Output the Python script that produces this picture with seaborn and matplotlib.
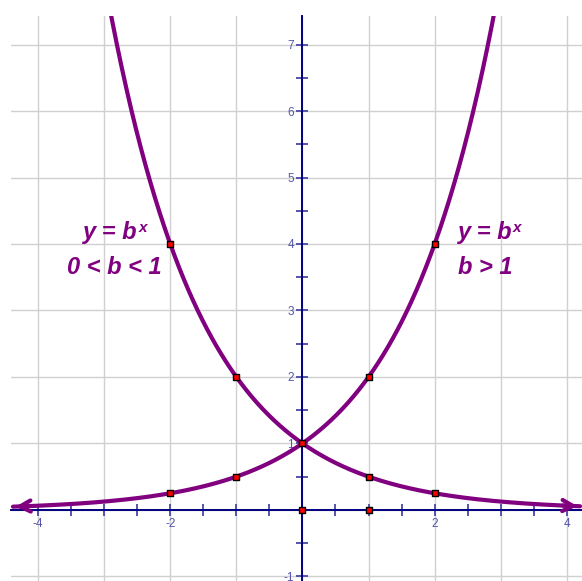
import matplotlib
matplotlib.use("Agg")
import matplotlib.pyplot as plt
import numpy as np
import pandas as pd
import seaborn as sns

# data
bases = [2.0, 0.5]
x_lo, x_hi = -4.38, 4.2
pts_x = [-2, -1, 0, 1, 2, -2, -1, 1, 2, 0, 1]
pts_y = [4, 2, 1, 0.5, 0.25, 0.25, 0.5, 2, 4, 0, 0]
x_ticks = np.arange(-4, 4.01, 0.5)
x_labeled = [-4, -2, 2, 4]
y_ticks = np.arange(-1, 7.01, 0.5)
y_labeled = [-1, 1, 2, 3, 4, 5, 6, 7]

purple = "#800080"
navy = "#000080"
tickc = "#5454aa"

sns.set_style("white")
plt.rcParams["font.family"] = ["Liberation Sans", "DejaVu Sans"]

fig = plt.figure(figsize=(5.82, 5.81), dpi=100)
ax = fig.add_axes([11 / 582, 0, 571 / 582, 565 / 581])

xs = np.linspace(x_lo, x_hi, 600)
rows = []
for b in bases:
    for x in xs:
        rows.append({"x": x, "y": b ** x, "b": str(b)})
df = pd.DataFrame(rows)
sns.lineplot(data=df, x="x", y="y", units="b", estimator=None, color=purple,
             lw=3, ax=ax, zorder=3, sort=False)

sns.scatterplot(x=pts_x, y=pts_y, color="red", edgecolor="black", s=14,
                linewidth=1, marker="s", ax=ax, zorder=5)

# arrowheads at the ends of the curves
aprops = dict(arrowstyle="->,head_length=0.75,head_width=0.4", color=purple, lw=3)
ax.annotate("", xy=(x_lo, 2 ** x_lo), xytext=(x_lo + 0.3, 2 ** (x_lo + 0.3)),
            arrowprops=aprops, zorder=4)
ax.annotate("", xy=(x_hi, 0.5 ** x_hi), xytext=(x_hi - 0.3, 0.5 ** (x_hi - 0.3)),
            arrowprops=aprops, zorder=4)

ax.set_xlim(-4.41, 4.23)
ax.set_ylim(-1.07, 7.43)

# grid at integer positions
for g in range(-4, 5):
    ax.axvline(g, color="#d0d0d0", lw=1, zorder=0)
for g in range(-1, 8):
    ax.axhline(g, color="#d0d0d0", lw=1, zorder=0)

for s in ["top", "right"]:
    ax.spines[s].set_visible(False)
ax.spines["left"].set_position("zero")
ax.spines["bottom"].set_position("zero")
for s in ["left", "bottom"]:
    ax.spines[s].set_color(navy)
    ax.spines[s].set_linewidth(1.4)
    ax.spines[s].set_zorder(2)

ax.set_xticks(x_ticks)
ax.set_xticklabels([str(int(t)) if t in x_labeled else "" for t in x_ticks])
ax.set_yticks(y_ticks)
ax.set_yticklabels([str(int(t)) if t in y_labeled else "" for t in y_ticks])
ax.tick_params(axis="both", direction="inout", length=8, width=1.4,
               color=tickc, labelcolor=tickc, labelsize=8.5, pad=2,
               bottom=True, left=True)
ax.set_xlabel("")
ax.set_ylabel("")

# labels
tstyle = dict(color=purple, fontsize=17, fontweight="bold", fontstyle="italic",
              va="baseline", ha="left")
t1 = ax.text(-3.32, 4.075, "y = b", **tstyle)
ax.annotate("x", xy=(1, 0), xycoords=t1, xytext=(0.5, 9), textcoords="offset points",
            color=purple, fontsize=11, fontweight="bold", fontstyle="italic")
ax.text(-3.56, 3.55, "0 < b < 1", **tstyle)
t2 = ax.text(2.35, 4.075, "y = b", **tstyle)
ax.annotate("x", xy=(1, 0), xycoords=t2, xytext=(0.5, 9), textcoords="offset points",
            color=purple, fontsize=11, fontweight="bold", fontstyle="italic")
ax.text(2.35, 3.55, "b > 1", **tstyle)

fig.savefig("out.png", dpi=100, facecolor="white")
